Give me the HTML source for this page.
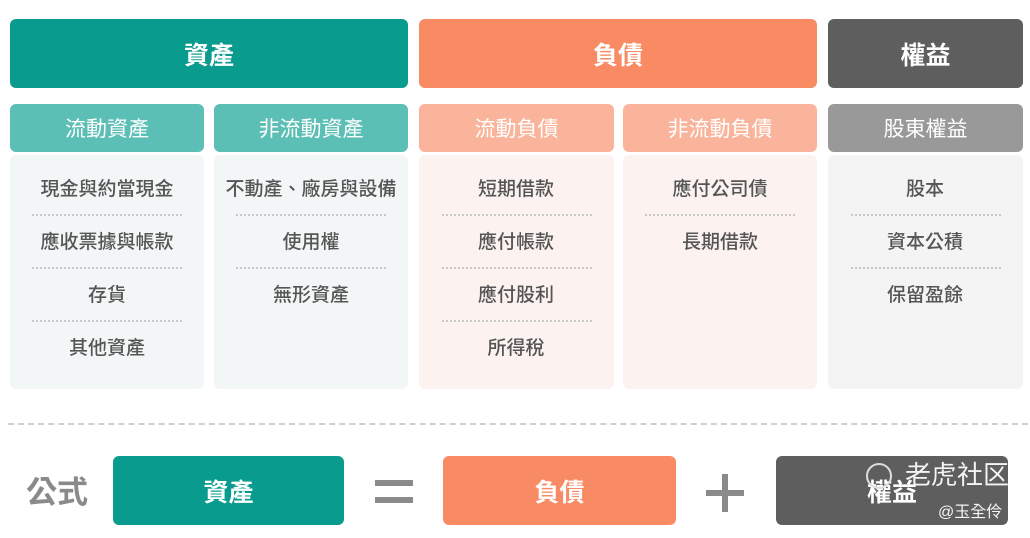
<!DOCTYPE html>
<html><head><meta charset="utf-8"><style>
body{margin:0;width:1030px;height:538px;background:#fff;position:relative;overflow:hidden;font-family:"Liberation Sans","Noto Sans CJK TC",sans-serif}
.a{position:absolute;box-sizing:border-box;display:flex;align-items:center;justify-content:center;border-radius:6px}
.h{color:#fff;font-size:25px;font-weight:bold;top:19px;height:69px}
.s{color:#fff;font-size:21px;top:104px;height:48px}
.b{top:155px;height:234px;border-radius:6px}
.t{position:absolute;width:194px;text-align:center;font-size:19px;font-weight:500;color:#555;line-height:24px}
.d{position:absolute;height:0;border-top:2px dotted #c8c8c8;width:150px}
</style></head><body>
<div class="a h" style="left:10px;width:398px;background:#0a9b8f">資產</div>
<div class="a h" style="left:419px;width:398px;background:#f98b64">負債</div>
<div class="a h" style="left:828px;width:195px;background:#5e5e5e">權益</div>

<div class="a s" style="left:10px;width:194px;background:#5cbfb5">流動資產</div>
<div class="a s" style="left:214px;width:194px;background:#5cbfb5">非流動資產</div>
<div class="a s" style="left:419px;width:195px;background:#f9b49b">流動負債</div>
<div class="a s" style="left:623px;width:194px;background:#f9b49b">非流動負債</div>
<div class="a s" style="left:828px;width:195px;background:#999">股東權益</div>

<div class="a b" style="left:10px;width:194px;background:#f2f6f6"></div>
<div class="a b" style="left:214px;width:194px;background:#f2f6f6"></div>
<div class="a b" style="left:419px;width:195px;background:#fcf3f0"></div>
<div class="a b" style="left:623px;width:194px;background:#fcf3f0"></div>
<div class="a b" style="left:828px;width:195px;background:#f4f4f4"></div>

<div class="t" style="left:10px;top:178px">現金與約當現金</div>
<div class="d" style="left:32px;top:214px"></div>
<div class="t" style="left:10px;top:231px">應收票據與帳款</div>
<div class="d" style="left:32px;top:267px"></div>
<div class="t" style="left:10px;top:284px">存貨</div>
<div class="d" style="left:32px;top:320px"></div>
<div class="t" style="left:10px;top:337px">其他資產</div>

<div class="t" style="left:214px;top:178px">不動產、廠房與設備</div>
<div class="d" style="left:236px;top:214px"></div>
<div class="t" style="left:214px;top:231px">使用權</div>
<div class="d" style="left:236px;top:267px"></div>
<div class="t" style="left:214px;top:284px">無形資產</div>

<div class="t" style="left:419px;top:178px">短期借款</div>
<div class="d" style="left:442px;top:214px"></div>
<div class="t" style="left:419px;top:231px">應付帳款</div>
<div class="d" style="left:442px;top:267px"></div>
<div class="t" style="left:419px;top:284px">應付股利</div>
<div class="d" style="left:442px;top:320px"></div>
<div class="t" style="left:419px;top:337px">所得稅</div>

<div class="t" style="left:623px;top:178px">應付公司債</div>
<div class="d" style="left:645px;top:214px"></div>
<div class="t" style="left:623px;top:231px">長期借款</div>

<div class="t" style="left:828px;top:178px">股本</div>
<div class="d" style="left:851px;top:214px"></div>
<div class="t" style="left:828px;top:231px">資本公積</div>
<div class="d" style="left:851px;top:267px"></div>
<div class="t" style="left:828px;top:284px">保留盈餘</div>

<div style="position:absolute;left:8px;top:423px;width:1020px;border-top:2px dashed #d0d0d0"></div>

<div style="position:absolute;left:26px;top:473px;font-size:31px;font-weight:bold;color:#8a8a8a;line-height:40px">公式</div>
<div class="a" style="left:113px;top:456px;width:231px;height:69px;background:#0a9b8f;color:#fff;font-size:25px;font-weight:bold">資產</div>
<div style="position:absolute;left:375px;top:480px;width:38px;height:6px;background:#8a8a8a"></div>
<div style="position:absolute;left:375px;top:497px;width:38px;height:6px;background:#8a8a8a"></div>
<div class="a" style="left:443px;top:456px;width:233px;height:69px;background:#f98b64;color:#fff;font-size:25px;font-weight:bold">負債</div>
<div style="position:absolute;left:706px;top:490px;width:38px;height:6px;background:#8a8a8a"></div>
<div style="position:absolute;left:722px;top:474px;width:6px;height:38px;background:#8a8a8a"></div>
<div class="a" style="left:776px;top:456px;width:232px;height:69px;background:#5e5e5e;color:#fff;font-size:25px;font-weight:bold">權益</div>
<div style="position:absolute;left:866px;top:463px;width:26px;height:26px;border:2px solid #ddd;border-radius:50%;box-sizing:border-box"></div>
<div style="position:absolute;left:905px;top:458px;font-size:26px;color:#f4f4f4;line-height:34px">老虎社区</div>
<div style="position:absolute;left:938px;top:502px;font-size:16px;color:#f4f4f4;line-height:22px">@玉全伶</div>
</body></html>
